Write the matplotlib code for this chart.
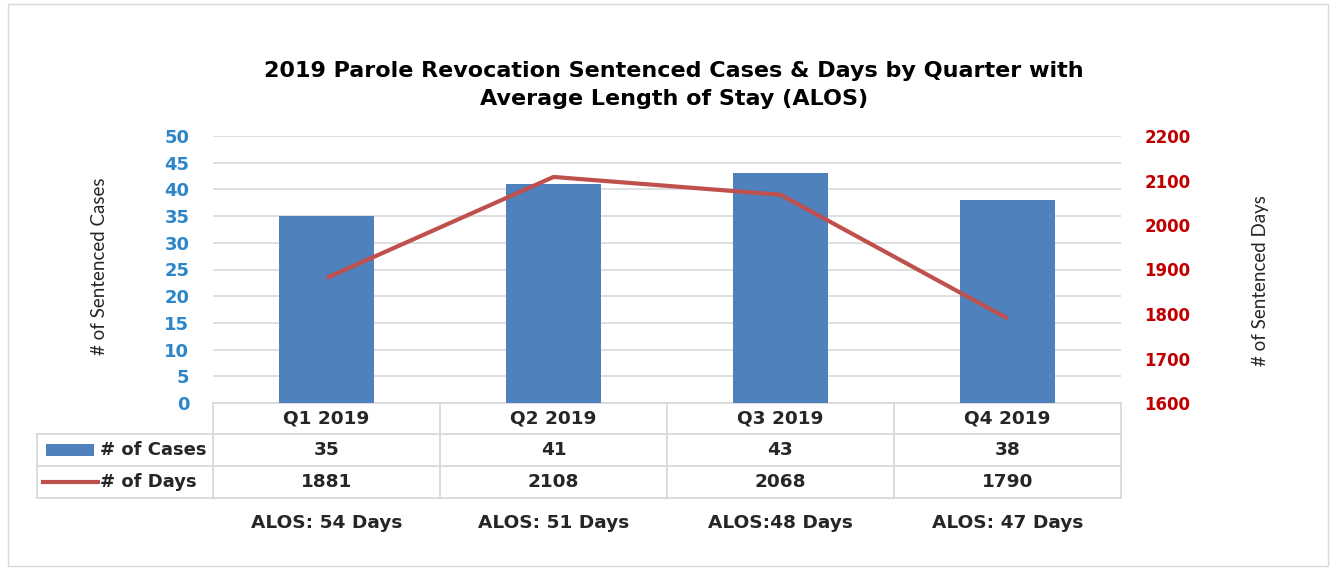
import matplotlib.pyplot as plt
from matplotlib.patches import Rectangle
from matplotlib.lines import Line2D

quarters = ["Q1 2019", "Q2 2019", "Q3 2019", "Q4 2019"]
cases = [35, 41, 43, 38]
days = [1881, 2108, 2068, 1790]
alos = ["ALOS: 54 Days", "ALOS: 51 Days", "ALOS:48 Days", "ALOS: 47 Days"]

BLUE = "#4F81BD"
RED = "#C0504D"
GRID = "#D9D9D9"
TXT = "#262626"

fig = plt.figure(figsize=(13.32, 5.69), dpi=100)
W, H = 1332, 569

# outer frame
fig.patches.append(Rectangle((8 / W, 3 / H), 1320 / W, 562 / H, transform=fig.transFigure,
                             fill=False, edgecolor=GRID, lw=1))

ax = fig.add_axes([213 / W, (H - 403) / H, 908 / W, 267 / H])
x = list(range(len(quarters)))
ax.bar(x, cases, width=0.42, color=BLUE, zorder=3)
ax.set_xlim(-0.5, 3.5)
ax.set_ylim(0, 50)
ax.set_yticks(range(0, 51, 5))
ax.set_xticks([])
for y in range(5, 51, 5):
    ax.axhline(y, color=GRID, lw=1.2, zorder=1)
for s in ax.spines.values():
    s.set_visible(False)
ax.tick_params(axis="y", length=0, pad=17, labelcolor="#2E86C8", labelsize=13)
for t in ax.get_yticklabels():
    t.set_fontweight("bold")
ax.set_ylabel("# of Sentenced Cases", fontsize=13.5, color=TXT, fontfamily="Lato")
ax.yaxis.set_label_coords(-0.1156, 0.513)

ax2 = ax.twinx()
ax2.plot(x, days, color=RED, lw=3, zorder=4, solid_capstyle="butt")
ax2.set_ylim(1600, 2200)
ax2.set_yticks(range(1600, 2201, 100))
for s in ax2.spines.values():
    s.set_visible(False)
ax2.tick_params(axis="y", length=0, pad=17, labelcolor="#C00000", labelsize=12)
for t in ax2.get_yticklabels():
    t.set_fontweight("bold")
ax2.set_ylabel("# of Sentenced Days", fontsize=13.5, color=TXT, fontfamily="Lato",
               rotation=90)
ax2.yaxis.set_label_coords(1.144, 0.457)

# data table below the axis
tr = ax.get_xaxis_transform()
row_h = 32 / 267
top = 0.0
r1 = top - 31 / 267
r2 = r1 - row_h
r3 = r2 - row_h
left_tab = -0.5 - 176 / 227
lk = dict(color=GRID, lw=1.3, transform=tr, clip_on=False)
ax.add_line(Line2D([-0.5, 3.5], [top, top], **lk))
for yy in (r1, r2, r3):
    ax.add_line(Line2D([left_tab, 3.5], [yy, yy], **lk))
for xx in [-0.5, 0.5, 1.5, 2.5, 3.5]:
    ax.add_line(Line2D([xx, xx], [top, r3], **lk))
ax.add_line(Line2D([left_tab, left_tab], [r1, r3], **lk))

tk = dict(transform=tr, ha="center", va="center", fontsize=13.3, fontweight="bold",
          color=TXT, clip_on=False)
for i, q in enumerate(quarters):
    ax.text(i, (top + r1) / 2, q, **tk)
    ax.text(i, (r1 + r2) / 2, str(cases[i]), **tk)
    ax.text(i, (r2 + r3) / 2, str(days[i]), **tk)
    ax.text(i, r3 - 25 / 267, alos[i], **tk)

# legend keys inside the table
ax.add_patch(Rectangle((left_tab + 9 / 227, (r1 + r2) / 2 - 6 / 267), 48 / 227, 12 / 267,
                       facecolor=BLUE, transform=tr, clip_on=False))
ax.add_line(Line2D([left_tab + 6 / 227, left_tab + 61 / 227], [(r2 + r3) / 2] * 2,
                   color=RED, lw=3, transform=tr, clip_on=False))
ax.text(left_tab + 63 / 227, (r1 + r2) / 2, "# of Cases", transform=tr, ha="left",
        va="center", fontsize=13, fontweight="bold", color=TXT)
ax.text(left_tab + 63 / 227, (r2 + r3) / 2, "# of Days", transform=tr, ha="left",
        va="center", fontsize=13, fontweight="bold", color=TXT)

fig.text(674 / W, 1 - 85 / H, "2019 Parole Revocation Sentenced Cases & Days by Quarter with\n"
         "Average Length of Stay (ALOS)", ha="center", va="center", fontsize=16,
         fontweight="bold", color="black", linespacing=1.45)

fig.savefig("out.png", dpi=100)
